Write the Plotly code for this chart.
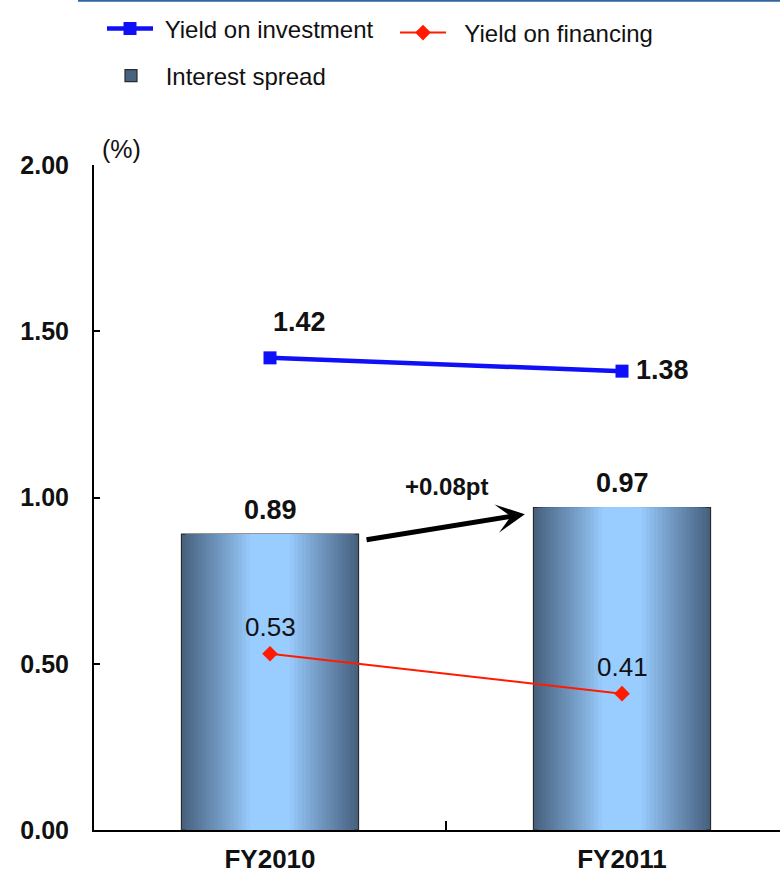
import plotly.graph_objects as go

# ---- data ----
categories = ["FY2010", "FY2011"]
interest_spread = [0.89, 0.97]
yield_investment = [1.42, 1.38]
yield_financing = [0.53, 0.41]
y_tick_values = [0.0, 0.5, 1.0, 1.5, 2.0]

FONT = "Liberation Sans, Arial, sans-serif"
NB = "\u00a0"

# plot-area geometry in pixels
W, H = 780, 874
L, R, T, B = 94, 0, 165, 44
PW, PH = W - L - R, H - T - B
CAT_PX = 352                     # pixel width of one category slot
BAR_W = 0.503                    # bar width in category units


def px_x(px):
    return (px - L) / PW


def px_y(py):
    return (H - B - py) / PH


def lerp_hex(c1, c2, t):
    a = [int(c1[i:i + 2], 16) for i in (1, 3, 5)]
    b = [int(c2[i:i + 2], 16) for i in (1, 3, 5)]
    return "#" + "".join(f"{round(a[i] + (b[i] - a[i]) * t):02x}" for i in range(3))


fig = go.Figure()

# Interest-spread bars: nested overlaid bars build a horizontal shading
DARK, LIGHT = "#46607e", "#9acdff"
N_LAYERS = 22
for k in range(N_LAYERS):
    d = 1 - (k + 0.5) / N_LAYERS          # distance of the visible band from centre
    t = min(max((d - 0.22) / 0.78, 0), 1) ** 0.9
    col = lerp_hex(LIGHT, DARK, t)
    outer = k == 0
    fig.add_trace(go.Bar(
        x=categories, y=interest_spread,
        width=BAR_W * (1 - k / N_LAYERS),
        marker=dict(color=col,
                    line=dict(color="#2b2b2b", width=1.2 if outer else 0)),
        name=NB + "Interest spread",
        showlegend=outer, legend="legend3",
        hoverinfo=None if outer else "skip",
    ))

fig.add_trace(go.Scatter(
    x=categories, y=yield_investment, mode="lines+markers",
    name=NB + "Yield on investment", legend="legend",
    line=dict(color="#1010f8", width=4.5),
    marker=dict(symbol="square", size=13, color="#1010f8"),
    cliponaxis=False,
))
fig.add_trace(go.Scatter(
    x=categories, y=yield_financing, mode="lines+markers",
    name=NB + NB + "Yield on financing", legend="legend2",
    line=dict(color="#ff1a00", width=2),
    marker=dict(symbol="diamond", size=12, color="#ff1a00"),
    cliponaxis=False,
))

ann = []
# bar value labels
for c, v in zip(categories, interest_spread):
    ann.append(dict(x=c, y=v, text=f"{v:.2f}", showarrow=False, yshift=24,
                    font=dict(family=FONT, size=27, color="#111", weight="bold")))
# investment yield labels
inv_shift = [dict(xshift=29, yshift=36, xanchor="center"),
             dict(xshift=12, yshift=1, xanchor="left")]
for c, v, s in zip(categories, yield_investment, inv_shift):
    ann.append(dict(x=c, y=v, text=f"{v:.2f}", showarrow=False, **s,
                    font=dict(family=FONT, size=27, color="#111", weight="bold")))
# financing yield labels
for c, v in zip(categories, yield_financing):
    ann.append(dict(x=c, y=v, text=f"{v:.2f}", showarrow=False, yshift=27,
                    font=dict(family=FONT, size=26, color="#111")))
# change in spread
delta = interest_spread[1] - interest_spread[0]
ann.append(dict(x=0.5, y=1.032, text=f"+{delta:.2f}pt", showarrow=False,
                font=dict(family=FONT, size=24, color="#111", weight="bold")))
ann.append(dict(x=0.724, y=0.95, ax=0.27, ay=0.872, axref="x", ayref="y",
                text="", showarrow=True, arrowhead=3, arrowwidth=5,
                arrowsize=0.95, arrowcolor="#000", standoff=0, startstandoff=0))
# unit label
ann.append(dict(xref="paper", yref="paper", x=px_x(100), y=px_y(133),
                text="(%)", showarrow=False,
                font=dict(family=FONT, size=25, color="#111")))

legend_common = dict(bgcolor="rgba(0,0,0,0)", borderwidth=0,
                     font=dict(family=FONT, size=24, color="#111"),
                     xanchor="left", yanchor="middle", itemwidth=46)

fig.update_layout(
    width=W, height=H,
    margin=dict(l=L, r=R, t=T, b=B, autoexpand=False),
    paper_bgcolor="white", plot_bgcolor="white",
    barmode="overlay",
    showlegend=True,
    font=dict(family=FONT, color="#111"),
    annotations=ann,
    legend=dict(x=px_x(102), y=px_y(29), **legend_common),
    legend2=dict(x=px_x(395), y=px_y(33), **legend_common),
    legend3=dict(x=px_x(103), y=px_y(76), **legend_common),
    shapes=[dict(type="line", xref="paper", yref="paper",
                 x0=px_x(78), x1=1.0, y0=px_y(0.8), y1=px_y(0.8),
                 line=dict(color="#2f64a0", width=2))],
    xaxis=dict(
        type="category", range=[-0.5, -0.5 + PW / CAT_PX],
        showline=True, linecolor="#000", linewidth=2,
        ticks="inside", tickson="boundaries", ticklen=9, tickwidth=1.5,
        tickcolor="#000", showgrid=False, zeroline=False,
        automargin=False, ticklabelstandoff=5,
        tickfont=dict(family=FONT, size=26, color="#111", weight="bold"),
    ),
    yaxis=dict(
        range=[0, 2], tickvals=y_tick_values, tickformat=".2f",
        showline=True, linecolor="#000", linewidth=2,
        ticks="inside", ticklen=6, tickwidth=1.5, tickcolor="#000",
        showgrid=False, zeroline=False, automargin=False,
        ticklabelstandoff=18,
        tickfont=dict(family=FONT, size=25, color="#111", weight="bold"),
    ),
)

fig.write_html("out.html")
